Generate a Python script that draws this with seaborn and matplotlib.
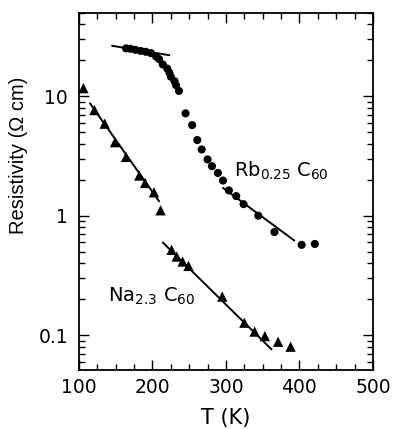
import matplotlib
matplotlib.use('Agg')
from matplotlib import pyplot as plt
from matplotlib.ticker import LogLocator, MultipleLocator, FixedLocator, NullFormatter
import pandas as pd
import seaborn as sns

# Rb0.25 C60 (кружки)
rb_T = [164, 170, 177, 184, 191, 198, 205, 209, 214, 220, 223, 225, 230, 232, 236,
        245, 254, 261, 267, 275, 281, 289, 296, 304, 314, 324, 344, 366, 403, 421]
rb_rho = [25.2, 25.0, 24.5, 24.0, 23.6, 23.0, 21.5, 20.5, 18.5, 17.1, 15.8, 14.6, 13.4, 12.4, 11.1,
          7.2, 5.74, 4.30, 3.59, 2.96, 2.60, 2.28, 1.97, 1.63, 1.46, 1.25, 1.0, 0.73, 0.57, 0.58]
rb_fit1_T = [145, 223]
rb_fit1_rho = [26.5, 22.1]
rb_fit2_T = [296, 393]
rb_fit2_rho = [1.71, 0.62]

# Na2.3 C60 (треугольники)
na_T = [106, 121, 135, 149, 164, 182, 190, 202, 211,
        226, 233, 241, 249, 295, 325, 339, 353, 371, 388]
na_rho = [11.7, 7.67, 5.9, 4.13, 3.11, 2.17, 1.88, 1.57, 1.11,
          0.518, 0.455, 0.413, 0.380, 0.210, 0.127, 0.107, 0.098, 0.088, 0.080]
na_fit1_T = [115, 209]
na_fit1_rho = [8.73, 1.32]
na_fit2_T = [214, 362]
na_fit2_rho = [0.597, 0.076]

sns.set_style('ticks')
plt.rcParams['font.family'] = ['DejaVu Sans']
plt.rcParams['mathtext.fontset'] = 'dejavusans'
plt.rcParams['text.color'] = 'black'
plt.rcParams['axes.labelcolor'] = 'black'

fig = plt.figure(figsize=(3.95, 4.29), dpi=100)
ax = fig.add_axes([0.2, 0.1375, 0.744, 0.8325])

df_rb = pd.DataFrame({'T': rb_T, 'rho': rb_rho})
df_na = pd.DataFrame({'T': na_T, 'rho': na_rho})

for xs, ys in [(rb_fit1_T, rb_fit1_rho), (rb_fit2_T, rb_fit2_rho),
               (na_fit1_T, na_fit1_rho), (na_fit2_T, na_fit2_rho)]:
    sns.lineplot(x=xs, y=ys, ax=ax, color='black', lw=1.4, estimator=None)

sns.scatterplot(data=df_rb, x='T', y='rho', ax=ax, color='black', marker='o',
                s=34, edgecolor='none')
sns.scatterplot(data=df_na, x='T', y='rho', ax=ax, color='black', marker='^',
                s=55, edgecolor='none')

ax.set_yscale('log')
ax.set_xlim(100, 500)
ax.set_ylim(0.051, 50)

ax.xaxis.set_major_locator(FixedLocator([100, 200, 300, 400, 500]))
ax.xaxis.set_minor_locator(MultipleLocator(25))
ax.yaxis.set_major_locator(FixedLocator([0.1, 1, 10]))
ax.yaxis.set_minor_locator(LogLocator(base=10, subs=range(2, 10)))
ax.yaxis.set_minor_formatter(NullFormatter())
ax.set_yticklabels(['0.1', '1', '10'])

ax.tick_params(which='both', direction='in', top=True, right=True, colors='black',
               labelsize=13.5)
ax.tick_params(which='major', length=7, width=1)
ax.tick_params(which='minor', length=4, width=1)
ax.tick_params(axis='x', which='major', pad=6)
ax.tick_params(axis='y', which='major', pad=8)
for sp in ax.spines.values():
    sp.set_linewidth(1.3)
    sp.set_color('black')

ax.set_xlabel('T (K)', fontsize=15, labelpad=8, color='black')
ax.set_ylabel('Resistivity (Ω cm)', fontsize=14.5, color='black',
              family=['Liberation Sans', 'DejaVu Sans'])
ax.yaxis.set_label_coords(-0.175, 0.6)

ax.text(311, 2.14, r'Rb$_{0.25}$ C$_{60}$', fontsize=14, ha='left', va='baseline', color='black')
ax.text(140, 0.19, r'Na$_{2.3}$ C$_{60}$', fontsize=14, ha='left', va='baseline', color='black')

fig.savefig('out.png', dpi=100)
